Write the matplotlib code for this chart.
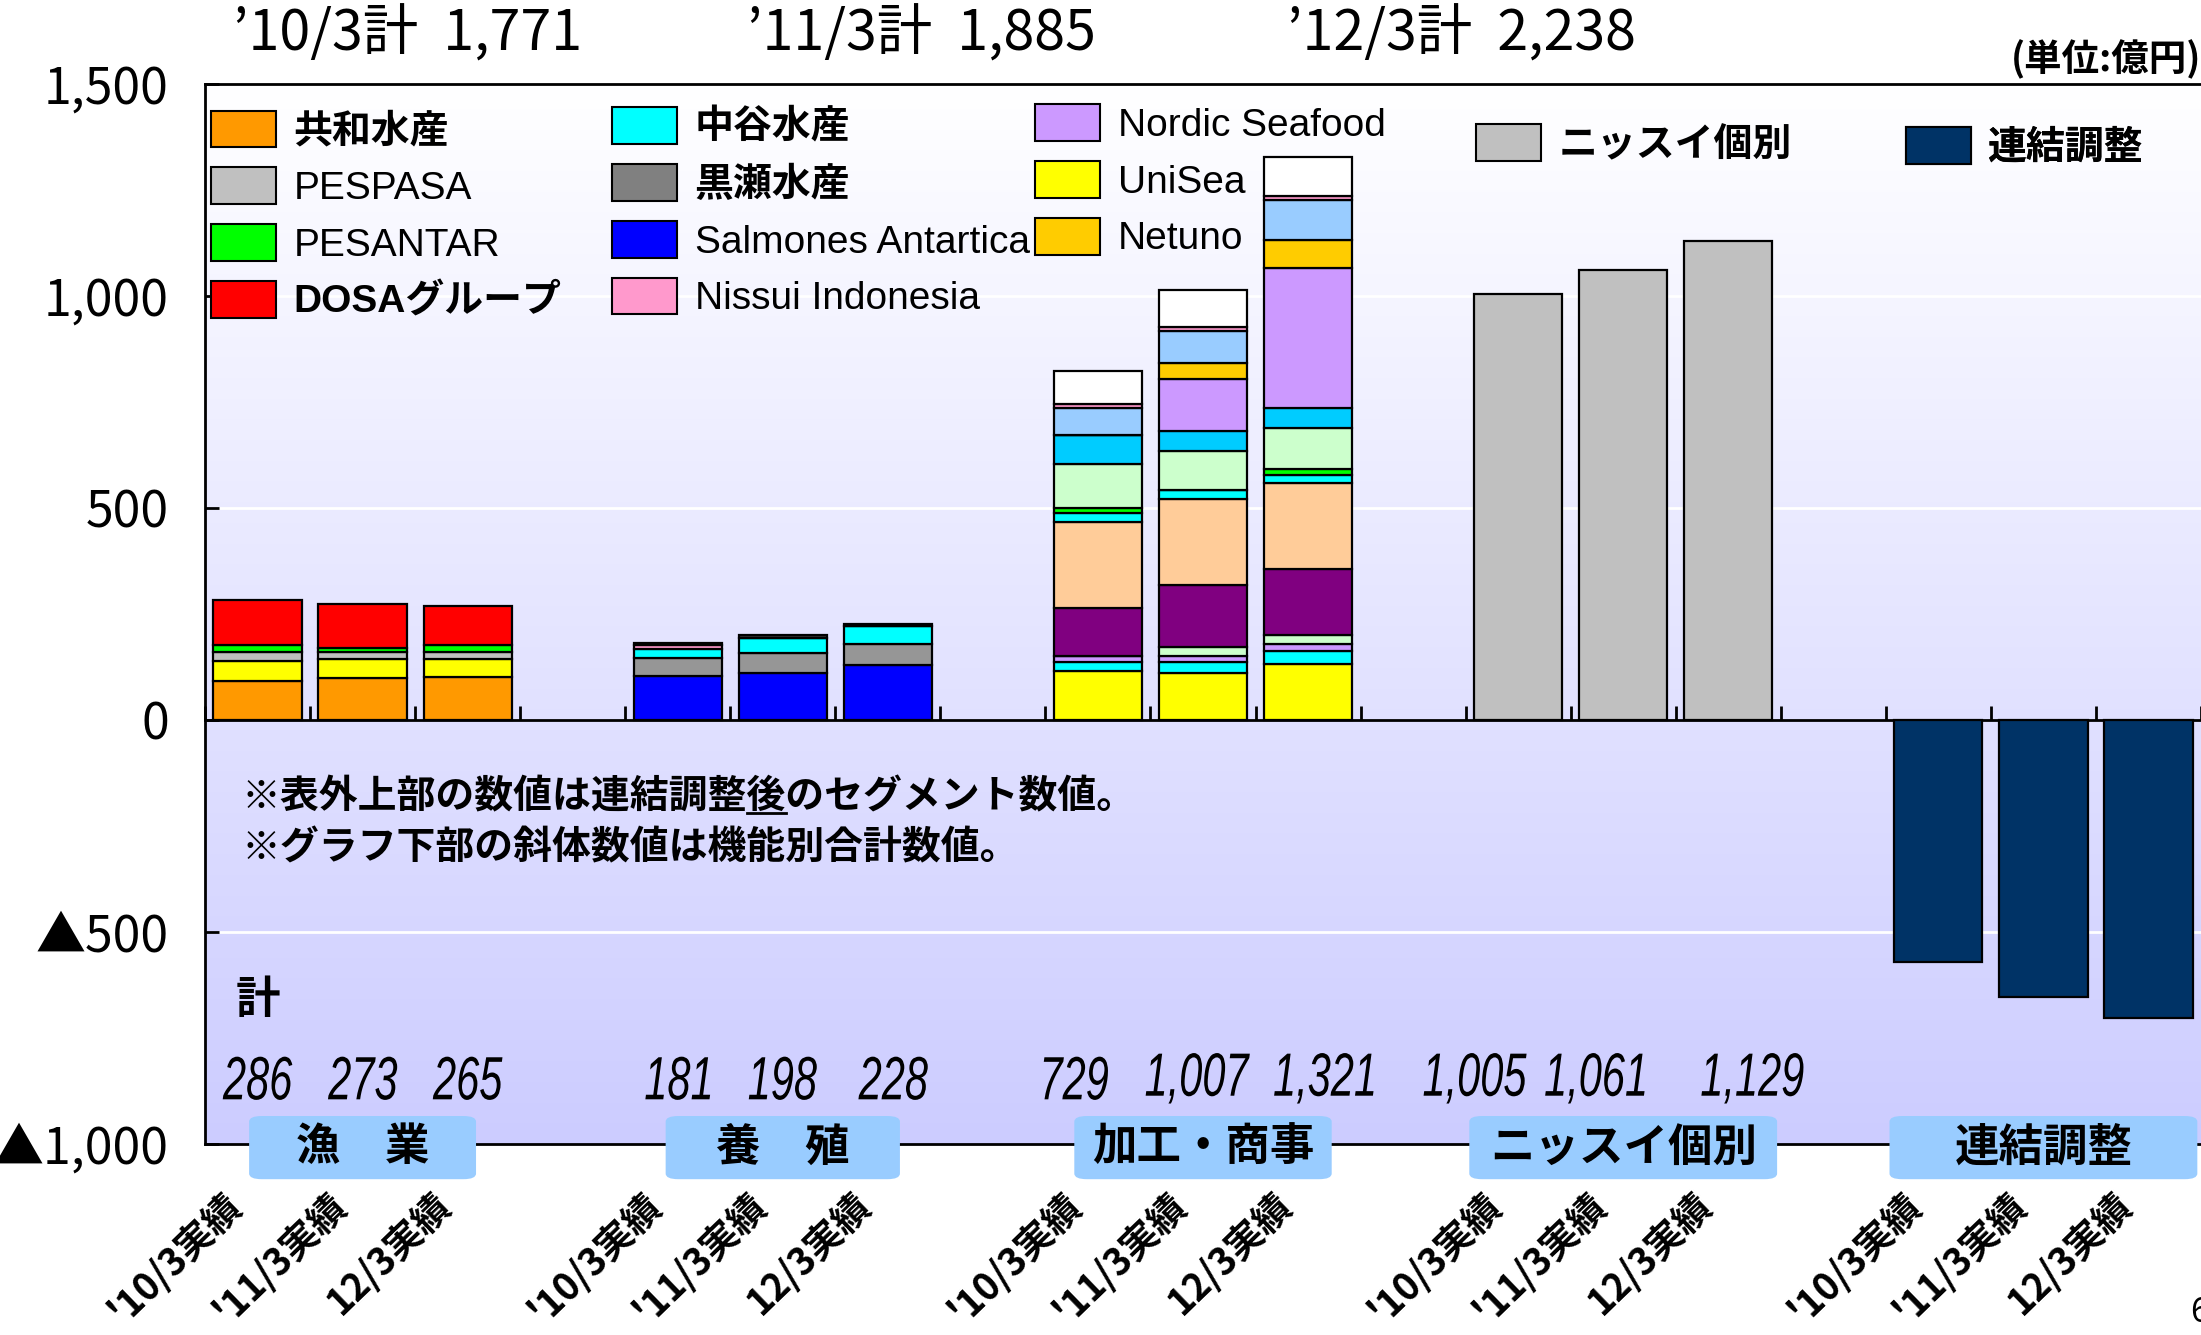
import numpy as np
import matplotlib
matplotlib.use('Agg')
import matplotlib.pyplot as plt
from matplotlib.colors import LinearSegmentedColormap
from matplotlib.patches import Patch, FancyBboxPatch, PathPatch
from matplotlib.lines import Line2D
from matplotlib.textpath import TextPath
from matplotlib.font_manager import FontProperties
from matplotlib.transforms import blended_transform_factory, Affine2D, ScaledTranslation, offset_copy

plt.rcParams['font.family'] = ['Noto Sans CJK JP', 'DejaVu Sans']

# --- data ---
years = ["'10/3実績", "'11/3実績", "12/3実績"]
groups = ['漁　業', '養　殖', '加工・商事', 'ニッスイ個別', '連結調整']
group_totals = [[286, 273, 265], [181, 198, 228], [729, 1007, 1321], [1005, 1061, 1129]]
top_years = ['10/3', '11/3', '12/3']
top_sums = [1771, 1885, 2238]

# 漁業
kyowa = [93, 98, 102]
fish_other = [47, 47, 43]
pespasa = [21, 16, 16]
pesantar = [17, 9, 16]
dosa = [105, 103, 92]

# 養殖
salmones = [104, 110, 130]
kurose = [42, 47, 49]
nakatani_aq = [21, 37, 42]
nissui_indo = [9, 0, 0]
aqua_other = [5, 6, 6]

# 加工・商事 (bottom -> top)
unisea = [115, 111, 132]
proc_cyan1 = [21, 25, 31]
proc_lav1 = [15, 16, 16]
proc_lgreen1 = [0, 21, 21]
proc_purple = [114, 145, 156]
proc_peach = [202, 204, 202]
proc_cyan2 = [21, 21, 21]
proc_green = [12, 0, 14]
proc_lgreen2 = [104, 91, 95]
proc_sky = [68, 48, 48]
nordic = [0, 123, 329]
netuno = [0, 38, 66]
proc_lblue = [64, 75, 95]
proc_pink = [10, 10, 10]
proc_white = [76, 85, 93]

# ニッスイ個別 / 連結調整
nissui = [1005, 1061, 1129]
adjust = [-570, -653, -702]

stacks = [
    [(kyowa, '#FF9900'), (fish_other, '#FFFF00'), (pespasa, '#C0C0C0'),
     (pesantar, '#00FF00'), (dosa, '#FF0000')],
    [(salmones, '#0000FF'), (kurose, '#969696'), (nakatani_aq, '#00FFFF'),
     (nissui_indo, '#FF99CC'), (aqua_other, '#333333')],
    [(unisea, '#FFFF00'), (proc_cyan1, '#00FFFF'), (proc_lav1, '#CC99FF'),
     (proc_lgreen1, '#CCFFCC'), (proc_purple, '#800080'), (proc_peach, '#FFCC99'),
     (proc_cyan2, '#00FFFF'), (proc_green, '#00FF00'), (proc_lgreen2, '#CCFFCC'),
     (proc_sky, '#00CCFF'), (nordic, '#CC99FF'), (netuno, '#FFCC00'),
     (proc_lblue, '#99CCFF'), (proc_pink, '#FF99CC'), (proc_white, '#FFFFFF')],
    [(nissui, '#C0C0C0')],
    [(adjust, '#003366')],
]

W, H = 2201, 1335
fig = plt.figure(figsize=(W / 100, H / 100), dpi=100)
ax = fig.add_axes([205 / W, 1 - 1144 / H, 1996 / W, 1060 / H])
ymin, ymax = -1000, 1500
ax.set_xlim(-0.5, 18.5)
ax.set_ylim(ymin, ymax)

# background gradient
cmap = LinearSegmentedColormap.from_list('bg', ['#FFFFFF', '#CCCCFF'])
ax.imshow(np.linspace(0, 1, 256).reshape(-1, 1), cmap=cmap, aspect='auto',
          extent=[-0.5, 18.5, ymin, ymax], zorder=0)
for y in [1000, 500, -500]:
    ax.axhline(y, color='white', lw=2, zorder=1)

bar_w = 0.84
xpos_all = []
for gi, layers in enumerate(stacks):
    x = gi * 4 + np.arange(3)
    xpos_all.extend(x)
    bottom = np.zeros(3)
    for vals, col in layers:
        v = np.array(vals, dtype=float)
        ax.bar(x, v, bar_w, bottom=bottom, color=col, edgecolor='black', lw=1.6, zorder=3)
        bottom += v

# zero axis with ticks at slot boundaries
secax = ax.secondary_xaxis((0 - ymin) / (ymax - ymin))
secax.set_xticks(np.arange(-0.5, 19, 1))
secax.tick_params(direction='in', length=10, width=2, labelbottom=False)
secax.spines['bottom'].set_linewidth(2)

# axes style
for s in ['top', 'left', 'bottom']:
    ax.spines[s].set_linewidth(2)
ax.spines['right'].set_visible(False)
ax.set_yticks([1500, 1000, 500, 0, -500, -1000])
ax.set_yticklabels(['1,500', '1,000', '500', '0', '▲500', '▲1,000'])
ax.tick_params(axis='y', direction='in', length=10, width=2, labelsize=36, pad=26)

# category labels (rotated, below the group boxes)
ax.set_xticks([])
lab_tr = offset_copy(ax.transData, fig=fig, x=-16, y=-40, units='points')
for xp, lab in zip(xpos_all, years * 5):
    ax.text(xp, ymin, lab, transform=lab_tr, rotation=44, rotation_mode='anchor',
            ha='right', va='center', fontsize=27, fontweight='bold', clip_on=False)

# group boxes
box_w = [2.16, 2.23, 2.45, 2.93, 2.93]
for gi, name in enumerate(groups):
    cx = gi * 4 + 1
    bx = FancyBboxPatch((cx - box_w[gi] / 2, -1083), box_w[gi], 149,
                        boxstyle='round,pad=0,rounding_size=0.12',
                        mutation_aspect=110, fc='#99CCFF', ec='none',
                        clip_on=False, zorder=5)
    ax.add_patch(bx)
    ax.text(cx, -1008, name, ha='center', va='center', fontsize=32,
            fontweight='bold', zorder=6, clip_on=False)


# condensed italic numbers (horizontal squeeze of the glyph outlines)
def condensed_text(x, y, s, size=44, sx=0.68):
    fp = FontProperties(family='Liberation Sans', style='italic')
    path = TextPath((0, 0), s, size=size, prop=fp)
    bb = path.get_extents()
    k = fig.dpi / 72
    tr = (Affine2D().translate(-(bb.x0 + bb.x1) / 2, -(bb.y0 + bb.y1) / 2).scale(sx * k, k)
          + ScaledTranslation(x, y, ax.transData))
    ax.add_patch(PathPatch(path, transform=tr, fc='black', ec='none', zorder=4, clip_on=False))


total_shift = [[0, 0, 0], [0, 0, 0.05], [-0.21, -0.05, 0.15], [-0.41, -0.27, 0.23]]
for gi, tots in enumerate(group_totals):
    for j, t in enumerate(tots):
        condensed_text(gi * 4 + j + total_shift[gi][j], -845, f'{t:,}')
ax.text(0, -660, '計', ha='center', va='center', fontsize=32, fontweight='bold', zorder=4)

# top totals
top_x = [1.43, 6.32, 11.46]
for tx, ty, ts in zip(top_x, top_years, top_sums):
    ax.text(tx, 1615, f'’{ty}計  {ts:,}', ha='center', va='center',
            fontsize=40, clip_on=False)
ax.text(1.0, 1557, '(単位:億円)', ha='right', va='center', fontsize=27,
        fontweight='bold', transform=blended_transform_factory(ax.transAxes, ax.transData))

# notes
note1 = '※表外上部の数値は連結調整後のセグメント数値。'
note2 = '※グラフ下部の斜体数値は機能別合計数値。'
nkw = dict(ha='left', va='center', fontsize=28, fontweight='bold', zorder=4)
ax.text(-0.15, -182, note1, **nkw)
ax.text(-0.15, -302, note2, **nkw)
fig.canvas.draw()
rend = fig.canvas.get_renderer()
tp = ax.text(-0.15, -182, note1[:note1.index('後')], alpha=0, **nkw)
tc = ax.text(-0.15, -182, note1[:note1.index('後') + 1], alpha=0, **nkw)
bp, bc = tp.get_window_extent(rend), tc.get_window_extent(rend)
inv = fig.transFigure.inverted()
(x0, y0), (x1, _) = inv.transform([(bp.x1, bc.y0 + 4), (bc.x1, bc.y0 + 4)])
fig.add_artist(Line2D([x0, x1], [y0, y0], color='black', lw=2))
tp.remove()
tc.remove()


# legends
def make_leg(items, anchor, fs=28):
    hs = [Patch(facecolor=c, edgecolor='black', lw=1.5, label=l) for l, c in items]
    leg = ax.legend(handles=hs, loc='upper left', bbox_to_anchor=anchor, frameon=False,
                    handlelength=1.67, handleheight=1.08,
                    handletextpad=0.45, labelspacing=0.44, borderpad=0, borderaxespad=0,
                    prop={'family': ['Liberation Sans', 'Noto Sans CJK JP'], 'size': fs})
    for t in leg.get_texts():
        if any(ord(ch) > 0x3000 for ch in t.get_text()):
            t.set_fontweight('bold')
    leg.set_zorder(7)
    ax.add_artist(leg)


make_leg([('共和水産', '#FF9900'), ('PESPASA', '#C0C0C0'),
          ('PESANTAR', '#00FF00'), ('DOSAグループ', '#FF0000')], (0.003, 0.975))
make_leg([('中谷水産', '#00FFFF'), ('黒瀬水産', '#808080'),
          ('Salmones Antartica', '#0000FF'), ('Nissui Indonesia', '#FF99CC')], (0.204, 0.978))
make_leg([('Nordic Seafood', '#CC99FF'), ('UniSea', '#FFFF00'),
          ('Netuno', '#FFCC00')], (0.416, 0.981))
make_leg([('ニッスイ個別', '#C0C0C0')], (0.637, 0.962))
make_leg([('連結調整', '#003366')], (0.852, 0.959))

fig.text(2190 / W, 1 - 1312 / H, '6', fontsize=24, ha='left', va='center')

fig.savefig('out.png', dpi=100)
